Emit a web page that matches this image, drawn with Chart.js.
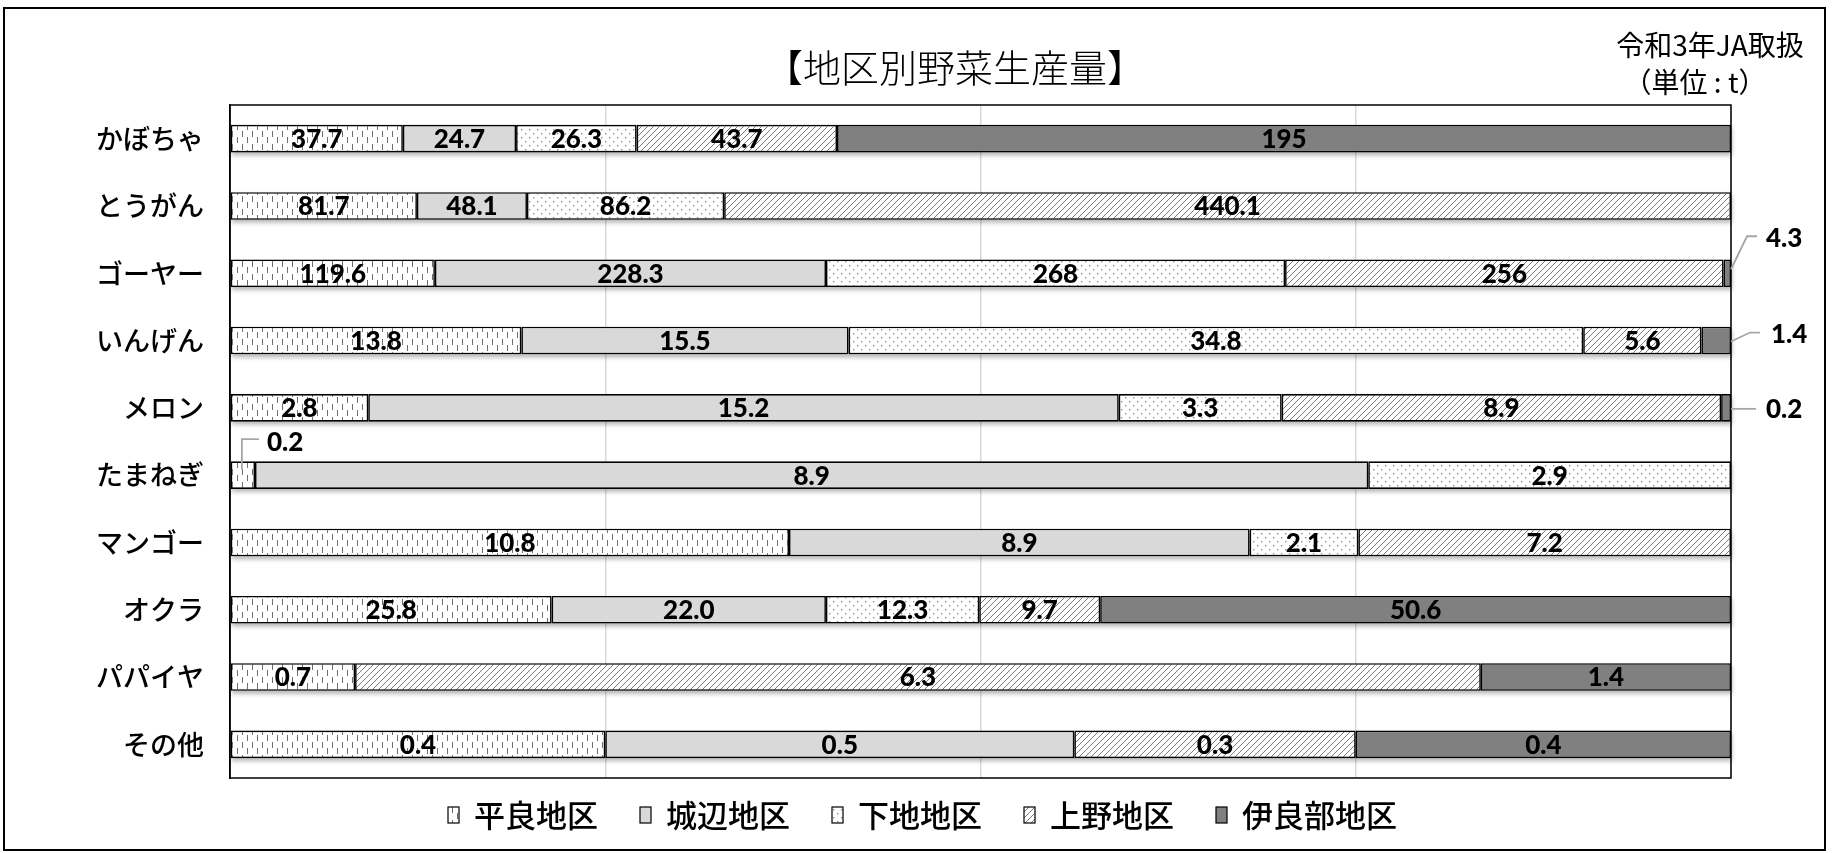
<!DOCTYPE html>
<html>
<head>
<meta charset="utf-8">
<script src="https://cdn.jsdelivr.net/npm/chart.js@4.4.1/dist/chart.umd.min.js"></script>
<style>
html,body{margin:0;padding:0;background:#fff;}
#wrap{width:1833px;height:853px;position:relative;}
</style>
</head>
<body>
<div id="wrap"><canvas id="c" width="1833" height="853"></canvas></div>
<script>
// ---- data ----
const categories = ['かぼちゃ','とうがん','ゴーヤー','いんげん','メロン','たまねぎ','マンゴー','オクラ','パパイヤ','その他'];
const seriesNames = ['平良地区','城辺地区','下地地区','上野地区','伊良部地区'];
const hirara  = [37.7, 81.7, 119.6, 13.8, 2.8, 0.2, 10.8, 25.8, 0.7, 0.4];
const gusukube= [24.7, 48.1, 228.3, 15.5, 15.2, 8.9, 8.9, 22.0, 0, 0.5];
const shimoji = [26.3, 86.2, 268, 34.8, 3.3, 2.9, 2.1, 12.3, 0, 0];
const ueno    = [43.7, 440.1, 256, 5.6, 8.9, 0, 7.2, 9.7, 6.3, 0.3];
const irabu   = [195, 0, 4.3, 1.4, 0.2, 0, 0, 50.6, 1.4, 0.4];
const labelDecimals = [[1,1,1,1,1,1,1,1,1,1],[1,1,1,1,1,1,1,1,1,1],[1,1,0,1,1,1,1,1,1,1],[1,1,0,1,1,1,1,1,1,1],[0,1,1,1,1,1,1,1,1,1]];
const xTicks = [0, 25, 50, 75, 100];
const titleText = '【地区別野菜生産量】';
const noteLines = ['令和3年JA取扱', '（単位 : t）'];

const seriesValues = [hirara, gusukube, shimoji, ueno, irabu];
const totals = categories.map((_, i) => seriesValues.reduce((s, arr) => s + arr[i], 0));
const pctData = seriesValues.map(arr => arr.map((v, i) => v > 0 ? v / totals[i] * 100 : null));

// ---- patterns ----
function makePattern(w, h, draw) {
  const c = document.createElement('canvas');
  c.width = w; c.height = h;
  const g = c.getContext('2d');
  g.fillStyle = '#ffffff';
  g.fillRect(0, 0, w, h);
  draw(g);
  return document.getElementById('c').getContext('2d').createPattern(c, 'repeat');
}
const patHirara = makePattern(10, 13, g => {
  g.fillStyle = '#6e6e6e';
  g.fillRect(2, 1, 1, 6);
  g.fillRect(7, 7, 1, 6);
});
const patShimoji = makePattern(8, 8, g => {
  g.fillStyle = '#8f8f8f';
  g.fillRect(1, 1, 1.4, 1.4);
  g.fillRect(5, 5, 1.4, 1.4);
});
const patUeno = makePattern(6, 6, g => {
  g.strokeStyle = '#7a7a7a';
  g.lineWidth = 1;
  g.beginPath();
  g.moveTo(0, 6); g.lineTo(6, 0);
  g.moveTo(-1, 1); g.lineTo(1, -1);
  g.moveTo(5, 7); g.lineTo(7, 5);
  g.stroke();
});
const fills = [patHirara, '#d9d9d9', patShimoji, patUeno, '#808080'];

// callouts for tiny segments
const callouts = [
  {d:4, i:2, anchor:'end', pts:[[0,-4],[16,-37],[26,-37]], txt:[35,-35]},
  {d:4, i:3, anchor:'end', pts:[[0,1],[19,-8],[29,-8]], txt:[40,-6]},
  {d:4, i:4, anchor:'end', pts:[[0,1],[25,1]], txt:[35,2]},
  {d:0, i:5, anchor:'center', pts:[[-1,-6],[-1,-36],[16,-36]], txt:[24,-33]}
];

const CJK = '"Noto Sans CJK JP", "Noto Sans", sans-serif';
const NUM = 'Lato, "Open Sans", sans-serif';
const NUMFONT = '900 26px ' + NUM;

const framePlugin = {
  id: 'frame',
  beforeDraw(chart) {
    const ctx = chart.ctx;
    ctx.save();
    ctx.fillStyle = '#fff';
    ctx.fillRect(0, 0, chart.width, chart.height);
    ctx.strokeStyle = '#000';
    ctx.lineWidth = 2;
    ctx.strokeRect(4, 8, 1821, 842);
    ctx.restore();
  },
  beforeDatasetsDraw(chart) {
    const ctx = chart.ctx;
    ctx.save();
    ctx.fillStyle = 'rgba(0,0,0,0.28)';
    ctx.filter = 'blur(2px)';
    categories.forEach((_, i) => {
      let minX = Infinity, maxX = -Infinity, top = 0, bottom = 0;
      chart.data.datasets.forEach((ds, d) => {
        const el = chart.getDatasetMeta(d).data[i];
        if (!el || ds.data[i] == null) return;
        const p = el.getProps(['x', 'base', 'y', 'height'], true);
        minX = Math.min(minX, p.base, p.x);
        maxX = Math.max(maxX, p.base, p.x);
        top = p.y - p.height / 2; bottom = p.y + p.height / 2;
      });
      if (minX < maxX) ctx.fillRect(minX + 1, top + 3, maxX - minX, bottom - top);
    });
    ctx.restore();
  },
  afterDatasetsDraw(chart) {
    const ctx = chart.ctx, a = chart.chartArea;
    ctx.save();
    ctx.strokeStyle = '#000';
    ctx.lineWidth = 1.5;
    ctx.strokeRect(a.left, a.top, a.right - a.left, a.bottom - a.top);
    ctx.restore();
  },
  afterDraw(chart) {
    const ctx = chart.ctx;
    ctx.save();
    ctx.fillStyle = '#000';
    ctx.font = NUMFONT;
    ctx.textBaseline = 'middle';
    chart.data.datasets.forEach((ds, d) => {
      const meta = chart.getDatasetMeta(d);
      meta.data.forEach((el, i) => {
        if (ds.data[i] == null) return;
        const p = el.getProps(['x', 'base', 'y'], true);
        const txt = seriesValues[d][i].toFixed(labelDecimals[d][i]);
        const co = callouts.find(c => c.d === d && c.i === i);
        if (co) {
          const ax = co.anchor === 'end' ? p.x : (p.x + p.base) / 2;
          ctx.strokeStyle = '#a6a6a6';
          ctx.lineWidth = 1.8;
          ctx.beginPath();
          co.pts.forEach((pt, k) => {
            const px = ax + pt[0], py = p.y + pt[1];
            if (k === 0) ctx.moveTo(px, py); else ctx.lineTo(px, py);
          });
          ctx.stroke();
          ctx.textAlign = 'left';
          ctx.fillText(txt, ax + co.txt[0], p.y + co.txt[1]);
        } else {
          ctx.textAlign = 'center';
          ctx.fillText(txt, (p.x + p.base) / 2, p.y + 1);
        }
      });
    });
    // title
    ctx.textAlign = 'center';
    ctx.font = '300 38px ' + CJK;
    ctx.fillText(titleText, 955, 68);
    // note
    ctx.font = '28px ' + CJK;
    ctx.fillText(noteLines[0], 1710, 45);
    ctx.fillText(noteLines[1], 1695, 82);
    // legend
    ctx.font = '500 31px ' + CJK;
    ctx.textAlign = 'left';
    let x = 448;
    const yc = 815;
    seriesNames.forEach((name, d) => {
      ctx.fillStyle = fills[d];
      ctx.fillRect(x, yc - 8, 11, 16);
      ctx.strokeStyle = '#000';
      ctx.lineWidth = 1.2;
      ctx.strokeRect(x, yc - 8, 11, 16);
      ctx.fillStyle = '#000';
      ctx.fillText(name, x + 26, yc);
      x += 26 + ctx.measureText(name).width + 42;
    });
    ctx.restore();
  }
};

function build() {
  new Chart(document.getElementById('c'), {
    type: 'bar',
    data: {
      labels: categories,
      datasets: seriesNames.map((name, d) => ({
        label: name,
        data: pctData[d],
        backgroundColor: fills[d],
        borderColor: '#000',
        borderWidth: 1.6,
        borderSkipped: false,
        categoryPercentage: 1,
        barPercentage: 0.41
      }))
    },
    options: {
      indexAxis: 'y',
      responsive: false,
      animation: false,
      events: [],
      layout: { padding: { top: 105, right: 102, bottom: 75, left: 0 } },
      plugins: { legend: { display: false }, title: { display: false }, tooltip: { enabled: false } },
      scales: {
        x: {
          stacked: true, min: 0, max: 100,
          afterBuildTicks: s => { s.ticks = xTicks.map(v => ({ value: v })); },
          ticks: { display: false },
          grid: { color: '#d9d9d9', lineWidth: 1.5, drawTicks: false },
          border: { display: false },
          afterFit: s => { s.height = 0; }
        },
        y: {
          stacked: true,
          ticks: { color: '#000', font: { family: CJK, size: 27, weight: '500' }, padding: 26 },
          grid: { display: false, drawTicks: false },
          border: { display: true, color: '#000', width: 1.5 },
          afterFit: s => { s.width = 230; }
        }
      }
    },
    plugins: [framePlugin]
  });
}
Promise.all([
  document.fonts.load(NUMFONT, '0123456789.'),
  document.fonts.load('500 31px "Noto Sans CJK JP"', '平良地区'),
  document.fonts.load('300 38px "Noto Sans CJK JP"', '地区')
]).then(build, build);
</script>
</body>
</html>
